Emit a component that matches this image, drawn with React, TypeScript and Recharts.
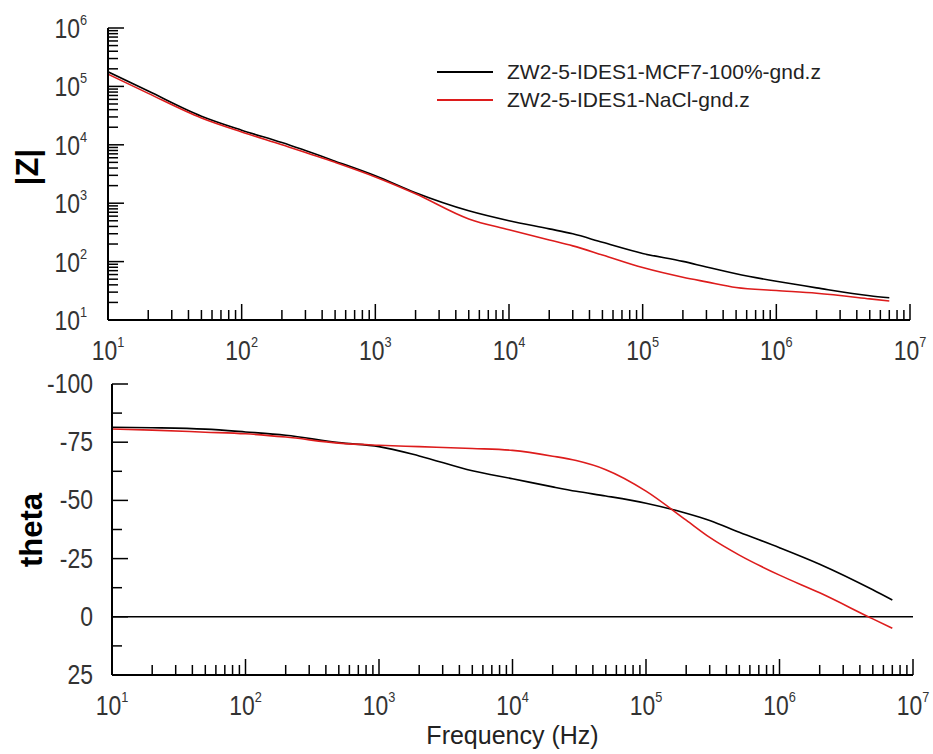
import { LineChart, Line, XAxis, YAxis, ReferenceLine, Legend } from 'recharts';

const FONT = '"Liberation Sans", Arial, sans-serif';

// frequency (Hz)
const freq = [10, 20, 50, 100, 200, 500, 1e3, 2e3, 5e3, 1e4, 2e4, 3e4, 5e4, 1e5, 2e5, 3e5, 5e5, 1e6, 2e6, 5e6, 7e6];
// |Z|
const zMcf7 = [178000, 83200, 30900, 17800, 10900, 5250, 2950, 1510, 741, 501, 363, 299, 214, 138, 101, 81, 62, 46, 35.5, 26, 24];
const zNacl = [162000, 75900, 28800, 16600, 10000, 5010, 2820, 1450, 537, 350, 234, 186, 130, 79, 54, 45, 36, 32, 28.7, 23, 21.1];
// theta
const thetaMcf7 = [-81.4, -81.2, -80.6, -79.4, -78.0, -74.8, -73.1, -69.1, -62.7, -59.3, -55.8, -53.9, -51.9, -48.8, -44.5, -41.4, -36.3, -29.7, -22.6, -11.6, -7.2];
const thetaNacl = [-80.7, -80.2, -79.3, -78.6, -77.2, -74.6, -73.7, -73.1, -72.3, -71.5, -69.0, -67.1, -63.2, -54.0, -41.5, -34.1, -26.5, -17.9, -10.3, 0.9, 4.9];

const seriesNames = ['ZW2-5-IDES1-MCF7-100%-gnd.z', 'ZW2-5-IDES1-NaCl-gnd.z'];
const seriesColors = ['#000000', '#dd1c1c'];

// axis ticks
const xDecades = [10, 100, 1e3, 1e4, 1e5, 1e6, 1e7];
const zDecades = [10, 100, 1e3, 1e4, 1e5, 1e6];
const minorSteps = [2, 3, 4, 5, 6, 7, 8, 9];
const thetaMajor = [-100, -75, -50, -25, 0, 25];
const thetaMinor = [-87.5, -62.5, -37.5, -12.5, 12.5];

const withMinors = (decades: number[]) => {
  const out: number[] = [];
  decades.forEach((d, i) => {
    out.push(d);
    if (i < decades.length - 1) minorSteps.forEach((m) => out.push(m * d));
  });
  return out;
};
const xTicks = withMinors(xDecades);
const zTicks = withMinors(zDecades);
const thetaTicks = [...thetaMajor, ...thetaMinor].sort((a, b) => a - b);

const zData = freq.map((f, i) => ({ f, a: zMcf7[i], b: zNacl[i] }));
const thetaData = freq.map((f, i) => ({ f, a: thetaMcf7[i], b: thetaNacl[i] }));

const Pow = ({ x, y, v, anchor }: any) => (
  <text
    transform={`translate(${x},${y}) scale(0.85,1)`}
    textAnchor={anchor}
    fontFamily={FONT}
    fontSize={27}
    fill="#333"
  >
    10
    <tspan fontSize={15} dy={-13}>
      {Math.round(Math.log10(v))}
    </tspan>
  </text>
);

const LogXTick = ({ x, y, payload }: any) => {
  const major = xDecades.includes(payload.value);
  return (
    <g>
      <line x1={x} x2={x} y1={y} y2={y - (major ? 16 : 10)} stroke="#000" strokeWidth={1.5} />
      {major && <Pow x={x} y={y + 40} v={payload.value} anchor="middle" />}
    </g>
  );
};

const LogYTick = ({ x, y, payload }: any) => {
  const major = zDecades.includes(payload.value);
  return (
    <g>
      <line x1={x} x2={x + (major ? 16 : 10)} y1={y} y2={y} stroke="#000" strokeWidth={1.5} />
      {major && <Pow x={x - 21} y={y + 10} v={payload.value} anchor="end" />}
    </g>
  );
};

const ThetaTick = ({ x, y, payload }: any) => {
  const major = thetaMajor.includes(payload.value);
  return (
    <g>
      <line x1={x} x2={x + (major ? 16 : 10)} y1={y} y2={y} stroke="#000" strokeWidth={1.5} />
      {major && (
        <text
          transform={`translate(${x - 19},${y + 9}) scale(0.85,1)`}
          textAnchor="end"
          fontFamily={FONT}
          fontSize={27}
          fill="#333"
        >
          {payload.value}
        </text>
      )}
    </g>
  );
};

const axisLine = { stroke: '#000', strokeWidth: 2 };

const yTitle = (text: string, x: number, y: number) => () => (
  <text
    transform={`translate(${x},${y}) rotate(-90)`}
    textAnchor="middle"
    fontFamily={FONT}
    fontSize={31}
    fontWeight="bold"
    fill="#000"
  >
    {text}
  </text>
);

const renderLegend = () => (
  <div style={{ fontFamily: FONT, fontSize: 21, color: '#222' }}>
    {seriesNames.map((name, i) => (
      <div key={name} style={{ display: 'flex', alignItems: 'center', height: 28 }}>
        <svg width={56} height={4} style={{ marginRight: 14 }}>
          <line x1={0} x2={56} y1={2} y2={2} stroke={seriesColors[i]} strokeWidth={2} />
        </svg>
        <span>{name}</span>
      </div>
    ))}
  </div>
);

export default function App() {
  return (
    <div style={{ position: 'absolute', left: 0, top: 0, width: 933, height: 754, background: '#fff' }}>
      <div style={{ position: 'absolute', left: 0, top: 0 }}>
        <LineChart width={933} height={366} data={zData} margin={{ top: 28, right: 23, bottom: 0, left: 0 }}>
          <XAxis
            xAxisId="f"
            dataKey="f"
            type="number"
            scale="log"
            domain={[10, 1e7]}
            allowDataOverflow
            ticks={xTicks}
            interval={0}
            tickSize={0}
            tickMargin={0}
            tickLine={false}
            axisLine={axisLine}
            tick={LogXTick}
            height={46}
          />
          <XAxis xAxisId="top" orientation="top" type="number" domain={[0, 1]} height={0} tick={false} tickLine={false} axisLine={axisLine} />
          <YAxis
            yAxisId="z"
            type="number"
            scale="log"
            domain={[10, 1e6]}
            allowDataOverflow
            ticks={zTicks}
            interval={0}
            tickSize={0}
            tickMargin={0}
            tickLine={false}
            axisLine={axisLine}
            tick={LogYTick}
            width={108}
            label={{ content: yTitle('|Z|', 38, 167) }}
          />
          <YAxis yAxisId="right" orientation="right" type="number" domain={[0, 1]} width={0} tick={false} tickLine={false} axisLine={axisLine} />
          <Legend
            layout="vertical"
            align="center"
            verticalAlign="middle"
            content={renderLegend}
            wrapperStyle={{ position: 'absolute', top: 58, left: 437, width: 440 }}
          />
          <Line xAxisId="f" yAxisId="z" type="monotone" dataKey="a" name={seriesNames[0]} stroke={seriesColors[0]} strokeWidth={1.6} dot={false} isAnimationActive={false} />
          <Line xAxisId="f" yAxisId="z" type="monotone" dataKey="b" name={seriesNames[1]} stroke={seriesColors[1]} strokeWidth={1.6} dot={false} isAnimationActive={false} />
        </LineChart>
      </div>
      <div style={{ position: 'absolute', left: 0, top: 350 }}>
        <LineChart width={933} height={404} data={thetaData} margin={{ top: 34, right: 20, bottom: 0, left: 0 }}>
          <XAxis
            xAxisId="f"
            dataKey="f"
            type="number"
            scale="log"
            domain={[10, 1e7]}
            allowDataOverflow
            ticks={xTicks}
            interval={0}
            tickSize={0}
            tickMargin={0}
            tickLine={false}
            axisLine={axisLine}
            tick={LogXTick}
            height={79}
            label={{ value: 'Frequency (Hz)', position: 'insideBottom', offset: 10, fontFamily: FONT, fontSize: 25, fill: '#222' }}
          />
          <XAxis xAxisId="top" orientation="top" type="number" domain={[0, 1]} height={0} tick={false} tickLine={false} axisLine={axisLine} />
          <YAxis
            yAxisId="t"
            type="number"
            domain={[-100, 25]}
            reversed
            allowDataOverflow
            ticks={thetaTicks}
            interval={0}
            tickSize={0}
            tickMargin={0}
            tickLine={false}
            axisLine={axisLine}
            tick={ThetaTick}
            width={112}
            label={{ content: yTitle('theta', 42, 180) }}
          />
          <YAxis yAxisId="right" orientation="right" type="number" domain={[0, 1]} width={0} tick={false} tickLine={false} axisLine={axisLine} />
          <ReferenceLine xAxisId="f" yAxisId="t" y={0} stroke="#000" strokeWidth={1.5} />
          <Line xAxisId="f" yAxisId="t" type="monotone" dataKey="a" name={seriesNames[0]} stroke={seriesColors[0]} strokeWidth={1.6} dot={false} isAnimationActive={false} />
          <Line xAxisId="f" yAxisId="t" type="monotone" dataKey="b" name={seriesNames[1]} stroke={seriesColors[1]} strokeWidth={1.6} dot={false} isAnimationActive={false} />
        </LineChart>
      </div>
    </div>
  );
}
